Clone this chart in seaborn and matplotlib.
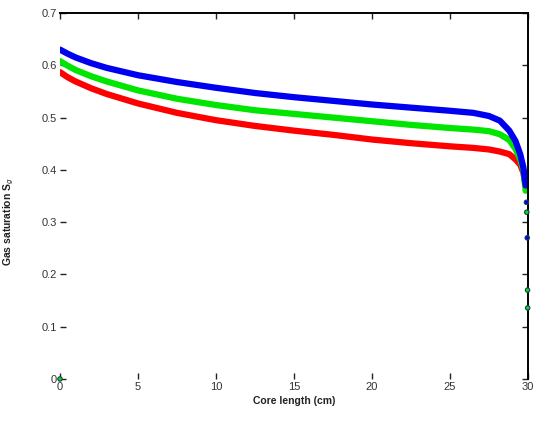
import numpy as np
import pandas as pd
import matplotlib
matplotlib.use("Agg")
import matplotlib.pyplot as plt
import seaborn as sns

# Gas saturation profiles along the core (three runs)
x_cm = [0, 0.5, 1, 2, 3, 5, 7.5, 10, 12.5, 15, 17.5, 20, 22.5, 25,
        26.5, 27.5, 28.2, 28.8, 29.2, 29.5, 29.7, 29.85]
sg_blue = [0.630, 0.622, 0.615, 0.604, 0.595, 0.581, 0.568, 0.557, 0.547, 0.539,
           0.532, 0.525, 0.519, 0.513, 0.509, 0.503, 0.494, 0.475, 0.455, 0.430,
           0.405, 0.370]
sg_green = [0.608, 0.599, 0.591, 0.579, 0.569, 0.552, 0.536, 0.524, 0.514, 0.507,
            0.500, 0.493, 0.486, 0.480, 0.477, 0.474, 0.468, 0.457, 0.440, 0.420,
            0.400, 0.360]
sg_red = [0.587, 0.577, 0.569, 0.556, 0.545, 0.527, 0.509, 0.495, 0.484, 0.475,
          0.467, 0.458, 0.451, 0.445, 0.442, 0.439, 0.435, 0.430, 0.420, 0.410,
          0.395, 0.370]

# sparse points at the outlet end
tail_x = [29.9, 29.92, 29.95, 29.97, 29.98, 0.0]
tail_sg = [0.338, 0.319, 0.270, 0.170, 0.136, 0.0]
tail_run = ["blue", "green", "blue", "green", "green", "green"]

x_ticks = [0, 5, 10, 15, 20, 25, 30]
y_ticks = [0, 0.1, 0.2, 0.3, 0.4, 0.5, 0.6, 0.7]
y_tick_labels = ["0", "0.1", "0.2", "0.3", "0.4", "0.5", "0.6", "0.7"]

runs = ["red", "green", "blue"]
colors = {"red": "#ff0000", "green": "#00e600", "blue": "#0000f0"}

df = pd.concat([
    pd.DataFrame({"x": x_cm, "sg": sg_red, "run": "red"}),
    pd.DataFrame({"x": x_cm, "sg": sg_green, "run": "green"}),
    pd.DataFrame({"x": x_cm, "sg": sg_blue, "run": "blue"}),
], ignore_index=True)
tail = pd.DataFrame({"x": tail_x, "sg": tail_sg, "run": tail_run})

sns.set_style("white")
plt.rcParams["font.family"] = ["Liberation Sans", "DejaVu Sans"]

fig = plt.figure(figsize=(5.39, 4.21), dpi=100)
ax = fig.add_axes([0.1113, 0.0998, 0.8683, 0.8693])

for r in runs:
    sns.lineplot(data=df[df["run"] == r], x="x", y="sg", color=colors[r],
                 linewidth=4.5, ax=ax, legend=False, sort=False,
                 solid_capstyle="round", solid_joinstyle="round")
sns.scatterplot(data=tail, x="x", y="sg", hue="run", palette=colors,
                s=10, edgecolor="#1a3a5a", linewidth=0.8, ax=ax, legend=False,
                clip_on=False, zorder=5)

ax.set_xlim(0, 30)
ax.set_ylim(0, 0.7)
ax.set_xticks(x_ticks)
ax.set_yticks(y_ticks)
ax.set_yticklabels(y_tick_labels)

for side in ["left", "bottom"]:
    ax.spines[side].set_visible(False)
for side in ["top", "right"]:
    ax.spines[side].set_visible(True)
    ax.spines[side].set_color("black")
    ax.spines[side].set_linewidth(1.4)

ax.tick_params(axis="both", which="both", direction="in", length=4, width=1,
               color="#222222", labelsize=8, labelcolor="#333333", pad=2,
               top=True, right=True, left=True, bottom=True)

ax.set_xlabel("Core length (cm)", fontsize=7.5, fontweight="bold",
              color="#222222", labelpad=3)
ax.set_ylabel("Gas saturation S$_g$", fontsize=7.5, fontweight="bold",
              color="#222222")
ax.yaxis.set_label_coords(-0.095, 0.43)
ax.grid(False)

fig.savefig("out.png", dpi=100)
